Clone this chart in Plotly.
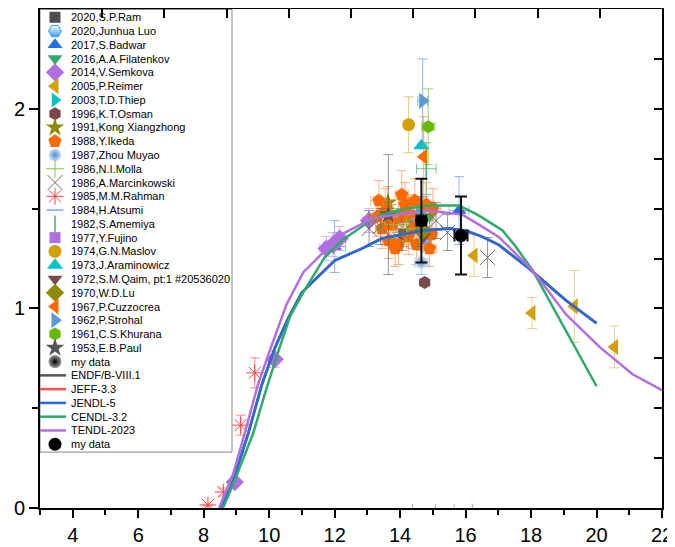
import plotly.graph_objects as go

# ---------------- evaluated cross-section curves ----------------
endf_x = [8.50, 8.84, 9.36, 9.78, 10.17, 10.58, 11.00, 12.00, 12.83, 13.44, 14.67, 15.50, 16.00, 16.50, 17.00, 17.94, 19.07, 20.00]
endf_y = [0.0, 0.107, 0.373, 0.62, 0.80, 0.95, 1.08, 1.24, 1.30, 1.35, 1.39, 1.40, 1.39, 1.36, 1.32, 1.20, 1.04, 0.925]
jeff_x = [8.50, 8.84, 9.36, 9.78, 10.17, 10.58, 11.00, 12.00, 12.83, 13.44, 14.67, 15.50, 16.00, 16.50, 17.00, 17.94, 19.07, 20.00]
jeff_y = [0.0, 0.107, 0.373, 0.62, 0.80, 0.95, 1.08, 1.24, 1.30, 1.35, 1.39, 1.40, 1.39, 1.36, 1.32, 1.20, 1.04, 0.925]
jendl_x = [8.50, 8.84, 9.36, 9.78, 10.17, 10.58, 11.00, 12.00, 12.83, 13.44, 14.67, 15.50, 16.00, 16.50, 17.00, 17.94, 19.07, 20.00]
jendl_y = [0.0, 0.107, 0.373, 0.62, 0.80, 0.95, 1.08, 1.24, 1.30, 1.35, 1.39, 1.40, 1.39, 1.36, 1.32, 1.20, 1.04, 0.925]
cendl_x = [8.59, 8.95, 9.51, 9.87, 10.27, 10.63, 11.04, 11.70, 12.22, 13.14, 13.44, 14.20, 14.87, 15.80, 16.30, 16.51, 17.13, 17.53, 18.05, 19.07, 20.00]
cendl_y = [0.0, 0.14, 0.373, 0.573, 0.78, 0.957, 1.08, 1.257, 1.34, 1.445, 1.47, 1.50, 1.515, 1.515, 1.475, 1.455, 1.39, 1.31, 1.19, 0.89, 0.61]
tendl_x = [8.47, 8.90, 9.25, 9.66, 10.00, 10.53, 11.04, 11.70, 12.20, 13.14, 13.85, 14.87, 15.90, 16.41, 17.02, 18.05, 19.07, 20.09, 21.10, 22.00]
tendl_y = [0.0, 0.17, 0.373, 0.62, 0.78, 1.02, 1.18, 1.29, 1.37, 1.45, 1.47, 1.49, 1.47, 1.42, 1.357, 1.19, 0.97, 0.807, 0.67, 0.59]

# ---------------- experimental data ----------------
ram_x = [14.10]; ram_y = [1.37]; ram_ey = [0.06]; ram_ex = [0.15]
luo_x = [14.80]; luo_y = [1.35]; luo_ey = [0.05]; luo_ex = [0.10]
badwar_x = [12.00, 15.80]; badwar_y = [1.31, 1.49]; badwar_ey = [0.13, 0.17]; badwar_ex = [0.33, 0.30]
filat_x = [13.70, 13.90, 14.10, 14.30, 14.50, 14.70, 14.90]
filat_y = [1.46, 1.44, 1.48, 1.45, 1.47, 1.50, 1.46]
filat_ey = [0.06, 0.06, 0.06, 0.06, 0.06, 0.06, 0.06]
filat_ex = [0.10, 0.10, 0.10, 0.10, 0.10, 0.10, 0.10]
semkova_x = [8.95, 10.17, 11.75, 11.95, 12.15, 13.05]
semkova_y = [0.13, 0.745, 1.30, 1.32, 1.35, 1.44]
semkova_ey = [0.02, 0.04, 0.06, 0.06, 0.06, 0.06]
semkova_ex = [0.10, 0.10, 0.20, 0.20, 0.20, 0.20]
reimer_x = [16.26, 18.03, 19.32, 20.55]; reimer_y = [1.265, 0.977, 1.01, 0.807]; reimer_ey = [0.105, 0.078, 0.18, 0.105]
thiep_x = [14.60]; thiep_y = [1.47]; thiep_ey = [0.08]
osman_x = [14.75]; osman_y = [1.13]
kong_x = [13.63, 14.10]; kong_y = [1.53, 1.47]; kong_ey = [0.08, 0.08]
ikeda_x = [13.35, 13.45, 13.55, 13.65, 13.75, 13.85, 13.95, 14.05, 14.10, 14.25, 14.30, 14.45, 14.50, 14.62, 14.80, 14.95, 15.00, 14.40, 13.70, 14.90, 13.30, 14.15]
ikeda_y = [1.54, 1.40, 1.49, 1.34, 1.42, 1.30, 1.32, 1.57, 1.46, 1.36, 1.47, 1.54, 1.32, 1.43, 1.52, 1.37, 1.50, 1.40, 1.44, 1.30, 1.46, 1.52]
ikeda_ey = [0.10, 0.10, 0.11, 0.09, 0.10, 0.09, 0.10, 0.12, 0.10, 0.09, 0.10, 0.11, 0.10, 0.10, 0.11, 0.09, 0.10, 0.10, 0.10, 0.09, 0.10, 0.11]
ikeda_ex = [0.25, 0.20, 0.25, 0.20, 0.25, 0.20, 0.25, 0.20, 0.25, 0.20, 0.25, 0.20, 0.25, 0.20, 0.25, 0.20, 0.25, 0.20, 0.25, 0.20, 0.25, 0.20]
zhou_x = [14.65]; zhou_y = [1.23]; zhou_ey = [0.06]; zhou_ex = [0.20]
molla_x = [13.80, 14.20, 14.60]; molla_y = [1.42, 1.40, 1.38]; molla_ey = [0.07, 0.07, 0.07]
marcin_x = [13.05, 13.40, 14.05, 14.55, 15.10, 15.45, 16.67]
marcin_y = [1.40, 1.41, 1.38, 1.40, 1.44, 1.38, 1.255]
marcin_ey = [0.09, 0.09, 0.09, 0.09, 0.09, 0.09, 0.10]
rahman_x = [8.13, 8.60, 9.13, 9.56]; rahman_y = [0.015, 0.08, 0.415, 0.677]; rahman_ey = [0.005, 0.02, 0.05, 0.075]
atsumi_x = [14.60]; atsumi_y = [1.45]; atsumi_ey = [0.06]
amemiya_x = [14.80]; amemiya_y = [1.70]; amemiya_ey = [0.13]; amemiya_ex = [0.30]
fujino_x = [14.73, 15.93]; fujino_y = [-0.03, -0.03]; fujino_ex = [0.35, 0.28]
maslov_x = [14.26]; maslov_y = [1.92]; maslov_ey = [0.14]; maslov_ex = [0.05]
aram_x = [14.65]; aram_y = [1.815]
qaim_x = [14.72]; qaim_y = [1.36]
lu_x = [14.70]; lu_y = [1.39]
cuzz_x = [14.72]; cuzz_y = [1.76]; cuzz_ey = [0.20]
strohal_x = [14.69]; strohal_y = [2.04]; strohal_ey = [0.21]; strohal_ex = [0.15]
khurana_x = [14.86]; khurana_y = [1.91]; khurana_ey = [0.19]; khurana_ex = [0.20]
paul_x = [13.64]; paul_y = [1.47]; paul_ey = [0.30]
my_x = [14.65, 15.86]; my_y = [1.44, 1.365]; my_ey = [0.21, 0.195]; my_ex = [0.15, 0.20]

x_ticks = [4, 6, 8, 10, 12, 14, 16, 18, 20, 22]
x_minor = [3, 5, 7, 9, 11, 13, 15, 17, 19, 21]
top_ticks = [4.9, 6.8, 8.7, 10.6, 12.5, 14.4, 16.3, 18.2, 20.1]
y_ticks = [0, 1, 2]
y_minor = [0.5, 1.5]

FONT = "Liberation Sans, Arial, sans-serif"


def st(symbol, color, size, lc=None, lw=0, grad=None, cap=5):
    return dict(symbol=symbol, color=color, size=size, lc=lc or color, lw=lw, grad=grad, cap=cap)


series = [
    ("2020,S.P.Ram", (ram_x, ram_y, ram_ey, ram_ex), st("square", "#4d4d4d", 11), "rgba(77,77,77,0.5)"),
    ("2020,Junhua Luo", (luo_x, luo_y, luo_ey, luo_ex), st("hexagon2", "#ffffff", 13, "#3a9bff", 1, ("vertical", "#3a9bff")), "rgba(58,155,255,0.5)"),
    ("2017,S.Badwar", (badwar_x, badwar_y, badwar_ey, badwar_ex), st("triangle-up", "#1f6fe0", 13), "rgba(110,160,230,0.75)"),
    ("2016,A.A.Filatenkov", (filat_x, filat_y, filat_ey, filat_ex), st("triangle-down", "#33aa6b", 13), "rgba(51,170,107,0.7)"),
    ("2014,V.Semkova", (semkova_x, semkova_y, semkova_ey, semkova_ex), st("diamond", "#b06ee0", 14), "rgba(176,110,224,0.5)"),
    ("2005,P.Reimer", (reimer_x, reimer_y, reimer_ey, None), st("triangle-left", "#d4a008", 14), "rgba(222,180,60,0.6)"),
    ("2003,T.D.Thiep", (thiep_x, thiep_y, thiep_ey, None), st("triangle-right", "#00c4c8", 13), "rgba(0,196,200,0.5)"),
    ("1996,K.T.Osman", (osman_x, osman_y, None, None), st("hexagon", "#7a4a4a", 13), None),
    ("1991,Kong Xiangzhong", (kong_x, kong_y, kong_ey, None), st("star", "#8c8a00", 14), "rgba(140,138,0,0.5)"),
    ("1988,Y.Ikeda", (ikeda_x, ikeda_y, ikeda_ey, ikeda_ex), st("pentagon", "#ff6a00", 14), "rgba(255,120,40,0.55)"),
    ("1987,Zhou Muyao", (zhou_x, zhou_y, zhou_ey, zhou_ex), st("circle", "#d6e8fa", 13, "#5b9bd5", 0, ("radial", "#4a8ad0")), "rgba(91,155,213,0.6)"),
    ("1986,N.I.Molla", (molla_x, molla_y, molla_ey, None), st("cross-thin", "#7cc83c", 13, "#7cc83c", 1), "rgba(124,200,60,0.6)"),
    ("1986,A.Marcinkowski", (marcin_x, marcin_y, marcin_ey, None), st("x-thin", "#6e6e6e", 15, "#6e6e6e", 1), "rgba(110,110,110,0.7)"),
    ("1985,M.M.Rahman", (rahman_x, rahman_y, rahman_ey, None), st("asterisk", "#ff4040", 14, "#ff4040", 1), "rgba(255,64,64,0.6)"),
    ("1984,H.Atsumi", (atsumi_x, atsumi_y, atsumi_ey, None), st("line-ew", "#6fa8ff", 12, "#6fa8ff", 1.5), "rgba(111,168,255,0.6)"),
    ("1982,S.Amemiya", (amemiya_x, amemiya_y, amemiya_ey, amemiya_ex), st("line-ns", "#3cb371", 12, "#3cb371", 1.5), "rgba(60,179,113,0.7)"),
    ("1977,Y.Fujino", (fujino_x, fujino_y, None, fujino_ex), st("square", "#b06ee0", 11, cap=10), "rgba(176,110,224,0.7)"),
    ("1974,G.N.Maslov", (maslov_x, maslov_y, maslov_ey, maslov_ex), st("circle", "#d4a008", 13), "rgba(222,180,60,0.7)"),
    ("1973,J.Araminowicz", (aram_x, aram_y, None, None), st("triangle-up", "#00c4c8", 14), None),
    ("1972,S.M.Qaim, pt:1 #20536020", (qaim_x, qaim_y, None, None), st("triangle-down", "#7a4a4a", 13), None),
    ("1970,W.D.Lu", (lu_x, lu_y, None, None), st("diamond", "#8c8a00", 14), None),
    ("1967,P.Cuzzocrea", (cuzz_x, cuzz_y, cuzz_ey, None), st("triangle-left", "#ff6a00", 14), "rgba(255,120,40,0.6)"),
    ("1962,P.Strohal", (strohal_x, strohal_y, strohal_ey, strohal_ex), st("triangle-right", "#5b9bd5", 14), "rgba(91,155,213,0.7)"),
    ("1961,C.S.Khurana", (khurana_x, khurana_y, khurana_ey, khurana_ex), st("hexagon", "#66bb00", 13), "rgba(102,187,0,0.6)"),
    ("1953,E.B.Paul", (paul_x, paul_y, paul_ey, None), st("star", "#555555", 14), "rgba(85,85,85,0.6)"),
]

my_style_sphere = st("circle", "#9a9a9a", 13, "#000000", 0, ("radial", "#000000"))
my_style_plain = st("circle", "#000000", 13)

curves = [
    ("ENDF/B-VIII.1", endf_x, endf_y, "#555555"),
    ("JEFF-3.3", jeff_x, jeff_y, "#ff4d4d"),
    ("JENDL-5", jendl_x, jendl_y, "#1f6fe0"),
    ("CENDL-3.2", cendl_x, cendl_y, "#2eaa6a"),
    ("TENDL-2023", tendl_x, tendl_y, "#b36ee0"),
]


def marker_dict(s):
    m = dict(symbol=s["symbol"], color=s["color"], size=s["size"],
             line=dict(color=s["lc"], width=s["lw"]))
    if s["grad"]:
        m["gradient"] = dict(type=s["grad"][0], color=s["grad"][1])
    return m


fig = go.Figure()

# experimental points
for label, (xs, ys, ey, ex), s, ecol in series:
    tr = dict(x=xs, y=ys, mode="markers", marker=marker_dict(s), name=label, showlegend=False)
    if ey is not None:
        tr["error_y"] = dict(type="data", array=ey, color=ecol, thickness=1, width=s["cap"])
    if ex is not None:
        tr["error_x"] = dict(type="data", array=ex, color=ecol, thickness=1, width=s["cap"])
    fig.add_trace(go.Scatter(**tr))

# evaluated curves
for label, xs, ys, c in curves:
    fig.add_trace(go.Scatter(x=xs, y=ys, mode="lines", line=dict(color=c, width=2.5),
                             name=label, showlegend=False))

# my data on top
fig.add_trace(go.Scatter(x=my_x, y=my_y, mode="markers", marker=marker_dict(my_style_plain),
                         error_y=dict(type="data", array=my_ey, color="#111111", thickness=2, width=6),
                         error_x=dict(type="data", array=my_ex, color="#111111", thickness=2, width=6),
                         name="my data", showlegend=False))

# ---------------- hand-built legend (overlay axes in window-pixel units) ----------------
row0, row_step = 17.3, 13.8
sym_x, txt_x = 55, 69
legend_rows = []
for label, _, s, _ in series:
    legend_rows.append(("marker", label, s))
legend_rows.append(("marker", "my data", my_style_sphere))
for label, _, _, c in curves:
    legend_rows.append(("line", label, c))
legend_rows.append(("marker", "my data", my_style_plain))

fig.add_shape(type="rect", xref="x3", yref="y3", x0=40, x1=232, y0=9.5, y1=453,
              line=dict(color="#8a8a8a", width=1), fillcolor="white", layer="below")

for i, (kind, label, s) in enumerate(legend_rows):
    yy = row0 + row_step * i
    if kind == "marker":
        fig.add_trace(go.Scatter(x=[sym_x], y=[yy], mode="markers", marker=marker_dict(s),
                                 xaxis="x3", yaxis="y3", showlegend=False, hoverinfo="skip"))
    else:
        fig.add_trace(go.Scatter(x=[40, 66], y=[yy, yy], mode="lines", line=dict(color=s, width=2.5),
                                 xaxis="x3", yaxis="y3", showlegend=False, hoverinfo="skip"))
    fig.add_annotation(x=txt_x, y=yy, xref="x3", yref="y3", text=label, showarrow=False,
                       xanchor="left", yanchor="middle", font=dict(family=FONT, size=11, color="black"))

# dummy traces so the mirrored axes render
fig.add_trace(go.Scatter(x=[None], y=[None], xaxis="x2", yaxis="y", showlegend=False))
fig.add_trace(go.Scatter(x=[None], y=[None], xaxis="x", yaxis="y2", showlegend=False))

axis_common = dict(showgrid=False, zeroline=False, showline=True, linecolor="black", linewidth=2,
                   automargin=False)

# the page body adds an 8px offset, so the figure is 8px smaller and margins compensate
fig.update_layout(
    width=667, height=539,
    margin=dict(l=32, r=13, t=1, b=39, autoexpand=False),
    paper_bgcolor="white", plot_bgcolor="white",
    showlegend=False,
    font=dict(family=FONT, color="black"),
    xaxis=dict(range=[3, 22], tickvals=x_ticks, ticks="outside", ticklen=8, tickwidth=2, tickcolor="black",
               tickfont=dict(size=20, family=FONT), anchor="y",
               minor=dict(tickvals=x_minor, ticks="outside", ticklen=5, tickwidth=2, tickcolor="black"),
               **axis_common),
    yaxis=dict(range=[0, 2.5], tickvals=y_ticks, ticks="outside", ticklen=9, tickwidth=2, tickcolor="black",
               tickfont=dict(size=20, family=FONT), anchor="x",
               minor=dict(tickvals=y_minor, ticks="outside", ticklen=6, tickwidth=2, tickcolor="black"),
               **axis_common),
    xaxis2=dict(range=[3, 22], overlaying="x", side="top", anchor="y", ticks="inside", ticklen=9,
                tickwidth=2, tickcolor="black", tickvals=top_ticks, showticklabels=False, **axis_common),
    yaxis2=dict(range=[0, 2.5], overlaying="y", side="right", anchor="x", ticks="inside", ticklen=8,
                tickwidth=2, tickcolor="black", dtick=0.25, tick0=0, showticklabels=False, **axis_common),
    xaxis3=dict(range=[40, 662], overlaying="x", anchor="y3", visible=False, automargin=False),
    yaxis3=dict(range=[509, 9], overlaying="y", anchor="x3", visible=False, automargin=False),
)

fig.write_html("out.html")
